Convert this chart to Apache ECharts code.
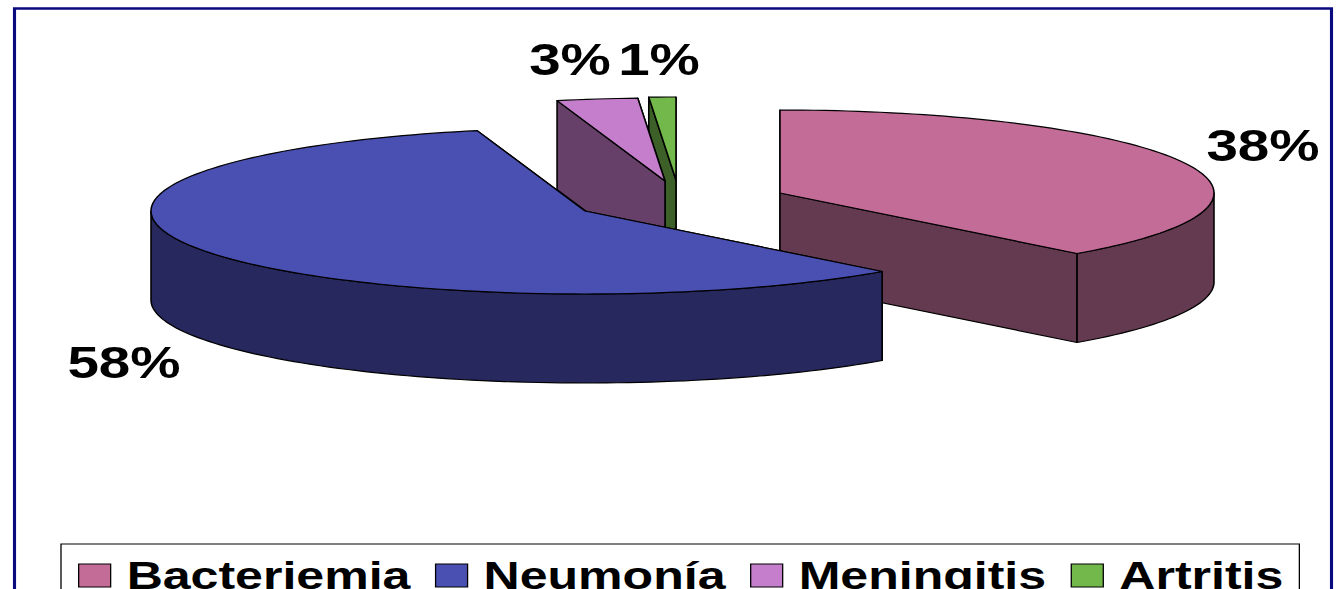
<!DOCTYPE html>
<html>
<head>
<meta charset="utf-8">
<style>
  html, body { margin: 0; padding: 0; background: #fff; overflow: hidden; }
  #chart { transform-origin: 0 0; }
</style>
<script src="https://cdn.jsdelivr.net/npm/echarts@6/dist/echarts.min.js"></script>
</head>
<body>
<div id="chart"></div>
<script>
// Share of cases per clinical presentation
const categories = ['Bacteriemia', 'Neumonía', 'Meningitis', 'Artritis'];
const values = [38, 58, 3, 1];
const faceColors = ['#C46C98', '#4A4FB2', '#C47ECC', '#73B84B'];
const wallColors = ['#633A4F', '#26285E', '#664068', '#3D5F28'];

// Page geometry, in final page pixels. The chart is laid out narrower and widened
// horizontally, so glyphs and strokes take the wide proportions of the whole figure.
const PAGE_W = 1342, PAGE_H = 589, WIDEN = 1.3;
const RX = 434, RY = 83, DEPTH = 89;
const sliceCentres = [[780, 193], [585, 211], [665, 181], [676, 180]];
const labelCentres = [[1263, 146], [124, 363], [570, 60], [659, 60]];
const paintOrder = [3, 2, 0, 1];   // far slices first, the large front slice last

const sx = x => x / WIDEN;
const total = values.reduce((a, b) => a + b, 0);

const el = document.getElementById('chart');
el.style.width = sx(PAGE_W) + 'px';
el.style.height = PAGE_H + 'px';
el.style.transform = 'scaleX(' + WIDEN + ')';

// Start and end angle of each slice, clockwise from 12 o'clock, in degrees
const spans = [];
values.reduce((acc, v) => {
  spans.push([acc / total * 360, (acc + v) / total * 360]);
  return acc + v;
}, 0);

function rimPoint(c, deg, drop) {
  const t = deg * Math.PI / 180;
  return [sx(c[0] + RX * Math.sin(t)), c[1] - RY * Math.cos(t) + drop];
}

function arc(c, from, to, drop) {
  const pts = [];
  const n = Math.max(2, Math.ceil(Math.abs(to - from) / 1.5));
  for (let i = 0; i <= n; i++) pts.push(rimPoint(c, from + (to - from) * i / n, drop));
  return pts;
}

function face(points, fill) {
  return {
    type: 'polygon',
    shape: { points },
    style: { fill, stroke: '#000', lineWidth: 1.2, lineJoin: 'round' }
  };
}

// One slice of the tilted pie: radial walls, outer wall, top face and percentage label
function sliceRenderer(idx) {
  return function () {
    const c = sliceCentres[idx];
    const [s, e] = spans[idx];
    const hub = [sx(c[0]), c[1]];
    const hubLow = [hub[0], c[1] + DEPTH];
    const children = [];

    const radial = deg => {
      const p = rimPoint(c, deg, 0), q = rimPoint(c, deg, DEPTH);
      return face([hub, p, q, hubLow], wallColors[idx]);
    };
    const cosOf = d => Math.cos(d * Math.PI / 180);
    const walls = cosOf(s) > cosOf(e) ? [s, e] : [e, s];
    walls.forEach(d => children.push(radial(d)));

    const from = Math.max(s, 90), to = Math.min(e, 270);
    if (to > from) {
      children.push(face(arc(c, from, to, 0).concat(arc(c, to, from, DEPTH)), wallColors[idx]));
    }

    children.push(face([hub].concat(arc(c, s, e, 0)), faceColors[idx]));

    children.push({
      type: 'text',
      x: sx(labelCentres[idx][0]),
      y: labelCentres[idx][1],
      style: {
        text: values[idx] + '%',
        fill: '#000',
        font: 'bold 43.5px "Liberation Sans", Arial, sans-serif',
        align: 'center',
        verticalAlign: 'middle'
      }
    });
    return { type: 'group', children };
  };
}

const chart = echarts.init(el, null, { renderer: 'svg' });
chart.setOption({
  animation: false,
  backgroundColor: '#fff',
  graphic: [{
    type: 'rect',
    silent: true,
    shape: { x: sx(14.5), y: 8.5, width: sx(1317), height: 700 },
    style: { fill: 'none', stroke: '#0A0A80', lineWidth: 2.4 }
  }],
  legend: {
    left: sx(61),
    top: 544,
    orient: 'horizontal',
    padding: [12, sx(16), 60, sx(17)],
    itemGap: sx(24.5),
    itemWidth: sx(32),
    itemHeight: 23,
    icon: 'rect',
    borderColor: '#000',
    borderWidth: 1,
    backgroundColor: '#fff',
    selectedMode: false,
    itemStyle: { borderColor: '#000', borderWidth: 1 },
    textStyle: {
      color: '#000',
      fontFamily: '"Liberation Sans", Arial, sans-serif',
      fontWeight: 'bold',
      fontSize: 38.5,
      padding: [0, 0, 0, sx(9.5)]
    },
    data: categories.map((name, i) => ({ name, itemStyle: { color: faceColors[i] } }))
  },
  series: paintOrder.map(i => ({
    type: 'custom',
    name: categories[i],
    coordinateSystem: 'none',
    silent: true,
    itemStyle: { color: faceColors[i] },
    data: [values[i]],
    renderItem: sliceRenderer(i)
  }))
});
</script>
</body>
</html>
